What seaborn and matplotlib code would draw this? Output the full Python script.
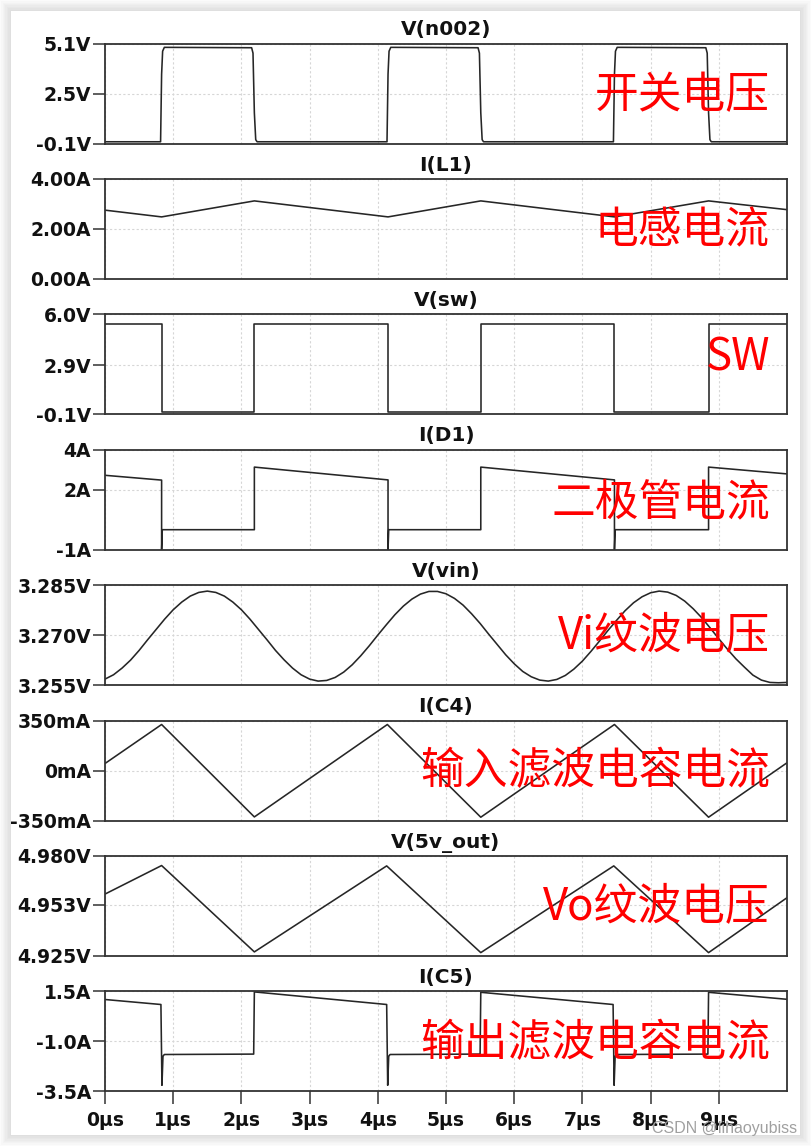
import numpy as np
import matplotlib
matplotlib.use("Agg")
import matplotlib.pyplot as plt
import seaborn as sns
from matplotlib.patches import Rectangle

# ==========================================
# 1. 波形数据 (时间单位: µs, 从截图读取)
# ==========================================
t_n002 = [0, 0.815, 0.83, 0.845, 0.87, 2.15, 2.17, 2.19, 2.21, 2.23,
          4.135, 4.15, 4.165, 4.19, 5.47, 5.49, 5.51, 5.53, 5.55,
          7.455, 7.47, 7.485, 7.51, 8.81, 8.83, 8.85, 8.87, 8.89, 10]
v_n002 = [-0.01, -0.01, 3.5, 4.7, 4.9, 4.88, 4.6, 1.5, 0.1, -0.01,
          -0.01, 3.5, 4.7, 4.9, 4.88, 4.6, 1.5, 0.1, -0.01,
          -0.01, 3.5, 4.7, 4.9, 4.88, 4.6, 1.5, 0.1, -0.01, -0.01]

t_l1 = [0, 0.83, 2.19, 4.15, 5.51, 7.47, 8.85, 10]
i_l1 = [2.75, 2.48, 3.12, 2.48, 3.12, 2.48, 3.12, 2.77]

t_sw = [0, 0.83, 0.83, 2.19, 2.19, 4.15, 4.15, 5.51, 5.51, 7.47, 7.47, 8.85, 8.85, 10]
v_sw = [5.38, 5.38, 0.02, 0.02, 5.38, 5.38, 0.02, 0.02, 5.38, 5.38, 0.02, 0.02, 5.38, 5.38]

t_d1 = [0, 0.83, 0.83, 0.84, 2.19, 2.19, 4.15, 4.15, 4.16, 5.51, 5.51,
        7.47, 7.47, 7.48, 8.85, 8.85, 10]
i_d1 = [2.72, 2.48, -1.0, 0.0, 0.0, 3.13, 2.49, -1.0, 0.0, 0.0, 3.13,
        2.49, -1.0, 0.0, 0.0, 3.13, 2.79]

# V(vin) 每 0.125µs 读一个点
t_vin = np.linspace(0, 10, 81)
v_vin = [3.2568, 3.2581, 3.2601, 3.2625, 3.2654, 3.2686, 3.2717, 3.2748, 3.2776, 3.2799,
         3.2817, 3.2828, 3.2832, 3.2828, 3.2817, 3.2799, 3.2776, 3.2748, 3.2717, 3.2686,
         3.2654, 3.2626, 3.2601, 3.2581, 3.2568, 3.2562, 3.2564, 3.2573, 3.2589, 3.2611,
         3.2638, 3.2668, 3.2700, 3.2731, 3.2761, 3.2787, 3.2808, 3.2823, 3.2831, 3.2831,
         3.2824, 3.2810, 3.2790, 3.2764, 3.2735, 3.2703, 3.2672, 3.2641, 3.2614, 3.2591,
         3.2575, 3.2565, 3.2562, 3.2567, 3.2579, 3.2598, 3.2622, 3.2651, 3.2682, 3.2714,
         3.2744, 3.2773, 3.2797, 3.2815, 3.2827, 3.2832, 3.2829, 3.2819, 3.2802, 3.2779,
         3.2752, 3.2721, 3.2689, 3.2658, 3.2629, 3.2604, 3.2580, 3.2565, 3.2558, 3.2557,
         3.2558]

t_c4 = [0, 0.83, 2.19, 4.14, 5.51, 7.47, 8.85, 10]
i_c4 = [49, 322, -325, 322, -327, 322, -327, 54]  # mA

t_vo = [0, 0.83, 2.19, 4.13, 5.51, 7.46, 8.85, 10]
v_vo = [4.959, 4.9747, 4.9272, 4.9745, 4.9268, 4.9745, 4.9268, 4.957]

t_c5 = [0, 0.82, 0.835, 0.85, 0.87, 2.18, 2.19, 4.13, 4.145, 4.16, 4.18, 5.50, 5.51,
        7.45, 7.465, 7.48, 7.50, 8.84, 8.85, 10]
i_c5 = [1.09, 0.84, -3.2, -1.75, -1.66, -1.64, 1.47, 0.84, -3.2, -1.75, -1.66, -1.64, 1.45,
        0.84, -3.2, -1.75, -1.66, -1.64, 1.45, 1.10]

# 面板设置
titles = ['V(n002)', 'I(L1)', 'V(sw)', 'I(D1)', 'V(vin)', 'I(C4)', 'V(5v_out)', 'I(C5)']
ylims = [(-0.1, 5.1), (0, 4), (-0.1, 6.0), (-1, 4), (3.255, 3.285),
         (-350, 350), (4.925, 4.980), (-3.5, 1.5)]
yticks = [[-0.1, 2.5, 5.1], [0, 2, 4], [-0.1, 2.9, 6.0], [-1, 2, 4],
          [3.255, 3.270, 3.285], [-350, 0, 350], [4.925, 4.953, 4.980], [-3.5, -1.0, 1.5]]
ytick_labels = [['-0.1V', '2.5V', '5.1V'], ['0.00A', '2.00A', '4.00A'], ['-0.1V', '2.9V', '6.0V'],
                ['-1A', '2A', '4A'], ['3.255V', '3.270V', '3.285V'], ['-350mA', '0mA', '350mA'],
                ['4.925V', '4.953V', '4.980V'], ['-3.5A', '-1.0A', '1.5A']]
notes = ['开关电压', '电感电流', 'SW', '二极管电流', 'Vi纹波电压',
         '输入滤波电容电流', 'Vo纹波电压', '输出滤波电容电流']
note_y = [0.48, 0.49, 0.57, 0.47, 0.49, 0.50, 0.49, 0.48]
xticks = list(range(10))
xtick_labels = [f'{i}µs' for i in xticks]

waves = [(t_n002, v_n002), (t_l1, i_l1), (t_sw, v_sw), (t_d1, i_d1),
         (t_vin, v_vin), (t_c4, i_c4), (t_vo, v_vo), (t_c5, i_c5)]

# ==========================================
# 2. 绘图
# ==========================================
sns.set_style('white')
plt.rcParams['font.family'] = ['DejaVu Sans']
plt.rcParams['axes.unicode_minus'] = False

W, H = 812, 1147
fig = plt.figure(figsize=(W / 100, H / 100), dpi=100)
fig.patch.set_facecolor('white')

# 卡片阴影
cx0, cy0, cx1, cy1 = 11, 11, 800, 1135
for k in range(9):
    d = k * 1.4
    fig.add_artist(Rectangle(((cx0 - d) / W, 1 - (cy1 + d) / H),
                             (cx1 - cx0 + 2 * d) / W, (cy1 - cy0 + 2 * d) / H,
                             transform=fig.transFigure, facecolor='black',
                             edgecolor='none', alpha=0.016, zorder=0))
fig.add_artist(Rectangle((cx0 / W, 1 - cy1 / H), (cx1 - cx0) / W, (cy1 - cy0) / H,
                         transform=fig.transFigure, facecolor='white',
                         edgecolor='none', zorder=0.5))

left, right = 105, 787
top0, pitch, ph = 43.5, 135.4, 100

axes = []
for i in range(8):
    top = top0 + i * pitch
    ax = fig.add_axes([left / W, 1 - (top + ph) / H, (right - left) / W, ph / H])
    ax.set_zorder(2)
    ax.patch.set_alpha(0)
    axes.append(ax)

    t, y = waves[i]
    sns.lineplot(x=t, y=y, ax=ax, estimator=None, sort=False,
                 color='#262626', linewidth=1.15)

    ax.set_xlim(0, 10)
    ax.set_ylim(*ylims[i])
    ax.set_yticks(yticks[i])
    ax.set_yticklabels(ytick_labels[i])
    ax.set_xticks(xticks)
    ax.set_xlabel('')
    ax.set_ylabel('')
    ax.grid(True, color='#d6d6d6', linestyle=(0, (2, 2)), linewidth=0.8)
    for s in ax.spines.values():
        s.set_color('#333333')
        s.set_linewidth(1.3)
    ax.tick_params(axis='y', length=9, width=1.1, color='#333333', pad=1,
                   labelsize=13.5, labelcolor='#111111', left=True)
    for lab in ax.get_yticklabels():
        lab.set_fontweight('bold')
    if i < 7:
        ax.tick_params(axis='x', length=0, labelbottom=False)
    else:
        ax.set_xticklabels(xtick_labels)
        ax.tick_params(axis='x', length=9, width=1.1, color='#333333', pad=5,
                       labelsize=13.5, labelcolor='#111111', bottom=True)
        for lab in ax.get_xticklabels():
            lab.set_fontweight('bold')

    ax.set_title(titles[i], fontsize=14.5, fontweight='bold', pad=6, color='#111111')
    ax.text(0.975, note_y[i], notes[i], transform=ax.transAxes, ha='right', va='center',
            color='#ff0000', fontsize=31.5,
            family=['Noto Sans CJK SC', 'DejaVu Sans'], zorder=5)

# 水印
fig.text(797 / W, 1 - 1128 / H, 'CSDN @lihaoyubiss', ha='right', va='center',
         fontsize=11.5, color='#a0a0a0', family=['Liberation Sans', 'DejaVu Sans'],
         zorder=10)

fig.savefig('out.png', dpi=100)
